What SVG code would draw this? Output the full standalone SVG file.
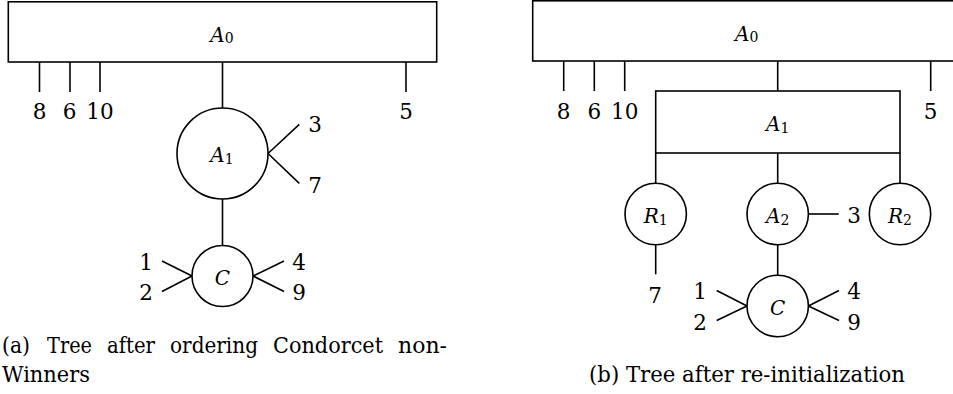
<svg xmlns="http://www.w3.org/2000/svg" width="953" height="394" viewBox="0 0 953 394">
<style>
.box{fill:#fff;stroke:#000;stroke-width:1.6}
.ln{stroke:#000;stroke-width:1.6;fill:none}
text{font-family:"DejaVu Serif","Liberation Serif",serif}
.m{font-style:italic;font-size:20px;text-anchor:middle}
.s{font-style:normal;font-size:14px}
.d{font-size:21.5px;text-anchor:middle}
.c{font-size:23px}
</style>
<rect width="953" height="394" fill="#fff"/>
<!-- Panel (a) -->
<g id="a-connectors">
<line class="ln" x1="39.5" y1="62" x2="39.5" y2="92"/>
<line class="ln" x1="70" y1="62" x2="70" y2="92"/>
<line class="ln" x1="100" y1="62" x2="100" y2="92"/>
<line class="ln" x1="406" y1="62" x2="406" y2="92"/>
<line class="ln" x1="222.5" y1="62" x2="222.5" y2="108"/>
<line class="ln" x1="268" y1="153.5" x2="299.3" y2="124.3"/>
<line class="ln" x1="268" y1="153.5" x2="299.3" y2="183.3"/>
<line class="ln" x1="222.5" y1="199" x2="222.5" y2="245.5"/>
<line class="ln" x1="192" y1="276" x2="162" y2="261"/>
<line class="ln" x1="192" y1="276" x2="162" y2="291.5"/>
<line class="ln" x1="253" y1="276" x2="284" y2="261"/>
<line class="ln" x1="253" y1="276" x2="284" y2="291.5"/>
</g>
<g id="a-A0">
<rect class="box" x="8.3" y="1.8" width="428.4" height="60.2"/>
<text class="m" x="222" y="41.5">A<tspan class="s" dy="1.5">0</tspan></text>
</g>
<g id="a-A1">
<circle class="box" cx="222.5" cy="153.5" r="45.5"/>
<text class="m" x="222" y="162">A<tspan class="s" dy="1.5">1</tspan></text>
</g>
<g id="a-C">
<circle class="box" cx="222.5" cy="276" r="30.5"/>
<text class="m" x="222.5" y="284.5">C</text>
</g>
<g id="a-leaves">
<text class="d" x="39.5" y="118.5">8</text>
<text class="d" x="69.5" y="118.5">6</text>
<text class="d" x="100" y="118.5">10</text>
<text class="d" x="406" y="118.5">5</text>
<text class="d" x="315" y="131.5">3</text>
<text class="d" x="315" y="193">7</text>
<text class="d" x="146" y="270">1</text>
<text class="d" x="146" y="300">2</text>
<text class="d" x="299" y="270">4</text>
<text class="d" x="299" y="300">9</text>
</g>
<g id="a-caption" class="c">
<text x="2" y="353" textLength="28" lengthAdjust="spacingAndGlyphs">(a)</text>
<text x="47" y="353" textLength="45" lengthAdjust="spacingAndGlyphs">Tree</text>
<text x="107" y="353" textLength="48" lengthAdjust="spacingAndGlyphs">after</text>
<text x="170" y="353" textLength="88" lengthAdjust="spacingAndGlyphs">ordering</text>
<text x="273" y="353" textLength="110" lengthAdjust="spacingAndGlyphs">Condorcet</text>
<text x="398" y="353" textLength="49" lengthAdjust="spacingAndGlyphs">non-</text>
<text x="2" y="381.7" textLength="88" lengthAdjust="spacingAndGlyphs">Winners</text>
</g>
<!-- Panel (b) -->
<g id="b-connectors">
<line class="ln" x1="563.7" y1="61" x2="563.7" y2="91"/>
<line class="ln" x1="594.3" y1="61" x2="594.3" y2="91"/>
<line class="ln" x1="624.7" y1="61" x2="624.7" y2="91"/>
<line class="ln" x1="930.7" y1="61" x2="930.7" y2="91"/>
<line class="ln" x1="777.7" y1="61" x2="777.7" y2="91"/>
<line class="ln" x1="655.7" y1="153" x2="655.7" y2="183.3"/>
<line class="ln" x1="777.7" y1="153" x2="777.7" y2="183.3"/>
<line class="ln" x1="900" y1="153" x2="900" y2="183.3"/>
<line class="ln" x1="655.7" y1="245" x2="655.7" y2="274.3"/>
<line class="ln" x1="808.4" y1="214" x2="838.7" y2="214"/>
<line class="ln" x1="777.7" y1="245" x2="777.7" y2="275.3"/>
<line class="ln" x1="747" y1="306" x2="716.7" y2="290.5"/>
<line class="ln" x1="747" y1="306" x2="716.7" y2="320.5"/>
<line class="ln" x1="808.4" y1="306" x2="839" y2="290.5"/>
<line class="ln" x1="808.4" y1="306" x2="839" y2="320.5"/>
</g>
<g id="b-A0">
<rect class="box" x="532.7" y="0.8" width="428.4" height="60.2"/>
<text class="m" x="746.7" y="40.5">A<tspan class="s" dy="1.5">0</tspan></text>
</g>
<g id="b-A1">
<rect class="box" x="655.7" y="91" width="244.3" height="62"/>
<text class="m" x="777.7" y="131">A<tspan class="s" dy="1.5">1</tspan></text>
</g>
<g id="b-R1">
<circle class="box" cx="655.7" cy="214" r="30.7"/>
<text class="m" x="655.7" y="223">R<tspan class="s" dy="1.5">1</tspan></text>
</g>
<g id="b-A2">
<circle class="box" cx="777.7" cy="214" r="30.7"/>
<text class="m" x="777.7" y="223">A<tspan class="s" dy="1.5">2</tspan></text>
</g>
<g id="b-R2">
<circle class="box" cx="900" cy="214" r="30.7"/>
<text class="m" x="900" y="223">R<tspan class="s" dy="1.5">2</tspan></text>
</g>
<g id="b-C">
<circle class="box" cx="777.7" cy="306" r="30.7"/>
<text class="m" x="777.7" y="314.5">C</text>
</g>
<g id="b-leaves">
<text class="d" x="563.7" y="118.5">8</text>
<text class="d" x="594.3" y="118.5">6</text>
<text class="d" x="624.7" y="118.5">10</text>
<text class="d" x="930.7" y="118.5">5</text>
<text class="d" x="854" y="223">3</text>
<text class="d" x="655" y="302.5">7</text>
<text class="d" x="700" y="299">1</text>
<text class="d" x="700" y="330">2</text>
<text class="d" x="854" y="299">4</text>
<text class="d" x="854" y="330">9</text>
</g>
<g id="b-caption" class="c">
<text x="589" y="381.7" textLength="316" lengthAdjust="spacingAndGlyphs">(b) Tree after re-initialization</text>
</g>
</svg>
